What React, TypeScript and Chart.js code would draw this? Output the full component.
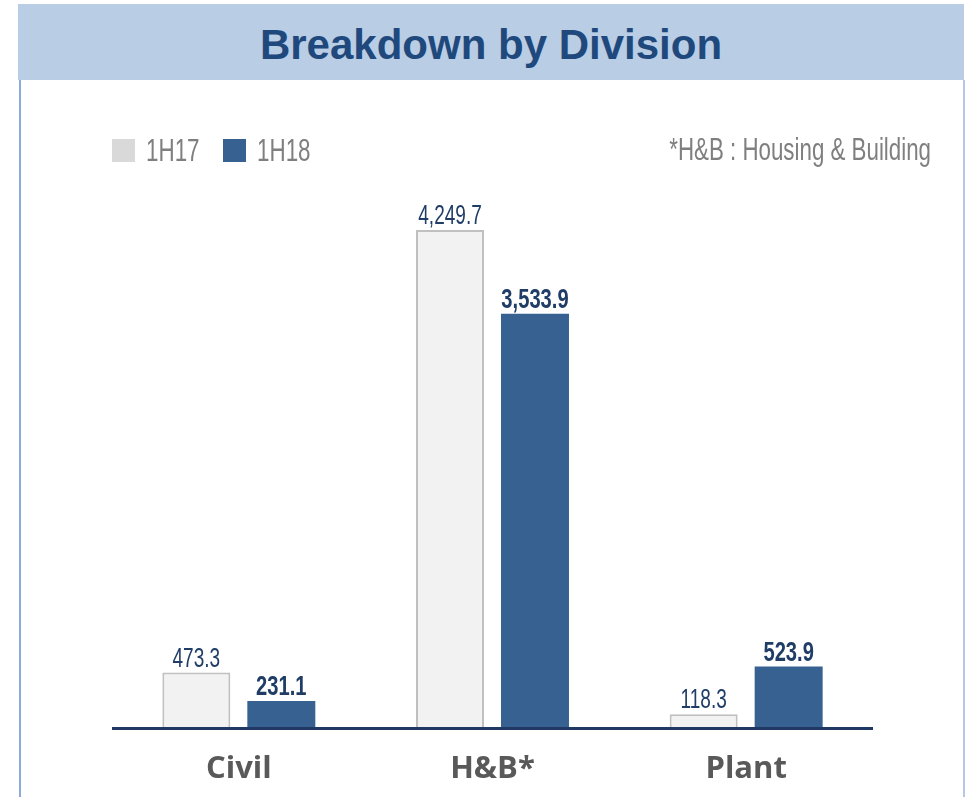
import React, { useEffect, useRef } from "react";
import { Chart, registerables } from "chart.js";

Chart.register(...registerables);

const categories = ["Civil", "H&B*", "Plant"];
const seriesNames = ["1H17", "1H18"];
const values1H17 = [473.3, 4249.7, 118.3];
const values1H18 = [231.1, 3533.9, 523.9];
const valueLabels1H17 = ["473.3", "4,249.7", "118.3"];
const valueLabels1H18 = ["231.1", "3,533.9", "523.9"];
const noteText = "*H&B : Housing & Building";
const titleText = "Breakdown by Division";

const C17_FILL = "#f2f2f2";
const C17_BORDER = "#c0c0c0";
const C18_FILL = "#376191";
const LABEL_DARK = "#1f3d66";

function condensedText(
  ctx: CanvasRenderingContext2D,
  text: string,
  x: number,
  y: number,
  sx: number,
  align: "left" | "center" | "right"
) {
  ctx.save();
  ctx.translate(x, y);
  ctx.scale(sx, 1);
  ctx.textAlign = align;
  ctx.textBaseline = "alphabetic";
  ctx.fillText(text, 0, 0);
  ctx.restore();
}

const overlayPlugin = {
  id: "overlay",
  afterDatasetsDraw(chart: any) {
    const ctx: CanvasRenderingContext2D = chart.ctx;
    const area = chart.chartArea;
    const xs = chart.scales.x;
    // axis line
    ctx.save();
    ctx.strokeStyle = "#1f3864";
    ctx.lineWidth = 3;
    ctx.beginPath();
    ctx.moveTo(area.left, area.bottom + 0.5);
    ctx.lineTo(area.right, area.bottom + 0.5);
    ctx.stroke();

    // value labels
    const labelSets = [valueLabels1H17, valueLabels1H18];
    chart.data.datasets.forEach((ds: any, di: number) => {
      const meta = chart.getDatasetMeta(di);
      meta.data.forEach((bar: any, i: number) => {
        ctx.fillStyle = LABEL_DARK;
        ctx.font = (di === 1 ? "bold " : "") + "28px 'Liberation Sans', Arial, sans-serif";
        condensedText(ctx, labelSets[di][i], bar.x, bar.y - 6, di === 1 ? 0.72 : 0.68, "center");
      });
    });

    // category labels
    ctx.fillStyle = "#595959";
    ctx.font = "bold 31px 'Open Sans', sans-serif";
    ctx.textAlign = "center";
    ctx.textBaseline = "alphabetic";
    categories.forEach((c, i) => {
      ctx.fillText(c, xs.getPixelForValue(i), 778);
    });

    // legend
    const legendItems = [
      { name: seriesNames[0], fill: "#d9d9d9", x: 112 },
      { name: seriesNames[1], fill: C18_FILL, x: 223 },
    ];
    legendItems.forEach((it) => {
      ctx.fillStyle = it.fill;
      ctx.fillRect(it.x, 139, 23, 23);
      ctx.fillStyle = "#7f7f7f";
      ctx.font = "32px 'Liberation Sans', Arial, sans-serif";
      condensedText(ctx, it.name, it.x + 34, 161, 0.7, "left");
    });

    // note
    ctx.fillStyle = "#7f7f7f";
    ctx.font = "31px 'Liberation Sans', Arial, sans-serif";
    condensedText(ctx, noteText, 931, 160, 0.72, "right");
    ctx.restore();
  },
};

export default function App() {
  const canvasRef = useRef<HTMLCanvasElement | null>(null);

  useEffect(() => {
    if (!canvasRef.current) return;
    const chart = new Chart(canvasRef.current, {
      type: "bar",
      data: {
        labels: categories,
        datasets: [
          {
            label: seriesNames[0],
            data: values1H17,
            backgroundColor: C17_FILL,
            borderColor: C17_BORDER,
            borderWidth: 2,
            borderSkipped: "bottom",
            barPercentage: 0.8,
            categoryPercentage: 0.67,
          },
          {
            label: seriesNames[1],
            data: values1H18,
            backgroundColor: C18_FILL,
            borderWidth: 0,
            barPercentage: 0.8,
            categoryPercentage: 0.67,
          },
        ],
      },
      options: {
        animation: false,
        responsive: false,
        maintainAspectRatio: false,
        layout: { padding: { left: 112, right: 96, top: 142, bottom: 69 } },
        plugins: {
          legend: { display: false },
          tooltip: { enabled: false },
          title: { display: false },
        },
        scales: {
          x: { display: false },
          y: { display: false, min: 0, max: 5000 },
        },
      },
      plugins: [overlayPlugin],
    });
    return () => chart.destroy();
  }, []);

  return (
    <div
      style={{
        position: "absolute",
        left: 0,
        top: 0,
        width: 969,
        height: 797,
        background: "#ffffff",
        overflow: "hidden",
      }}
    >
      <div
        style={{
          position: "absolute",
          left: 19,
          top: 80,
          width: 2,
          height: 717,
          background: "#8eaadb",
        }}
      />
      <div
        style={{
          position: "absolute",
          left: 963,
          top: 80,
          width: 2,
          height: 717,
          background: "#b4c7e7",
        }}
      />
      <div
        style={{
          position: "absolute",
          left: 18,
          top: 4,
          width: 946,
          height: 76,
          background: "#b9cde5",
          display: "flex",
          alignItems: "center",
          justifyContent: "center",
        }}
      >
        <span
          style={{
            fontFamily: "'Liberation Sans', Arial, sans-serif",
            fontWeight: "bold",
            fontSize: 42,
            color: "#1f497d",
            lineHeight: "42px",
            marginTop: 6,
          }}
        >
          {titleText}
        </span>
      </div>
      <canvas
        ref={canvasRef}
        width={969}
        height={797}
        style={{ position: "absolute", left: 0, top: 0, width: 969, height: 797 }}
      />
    </div>
  );
}
